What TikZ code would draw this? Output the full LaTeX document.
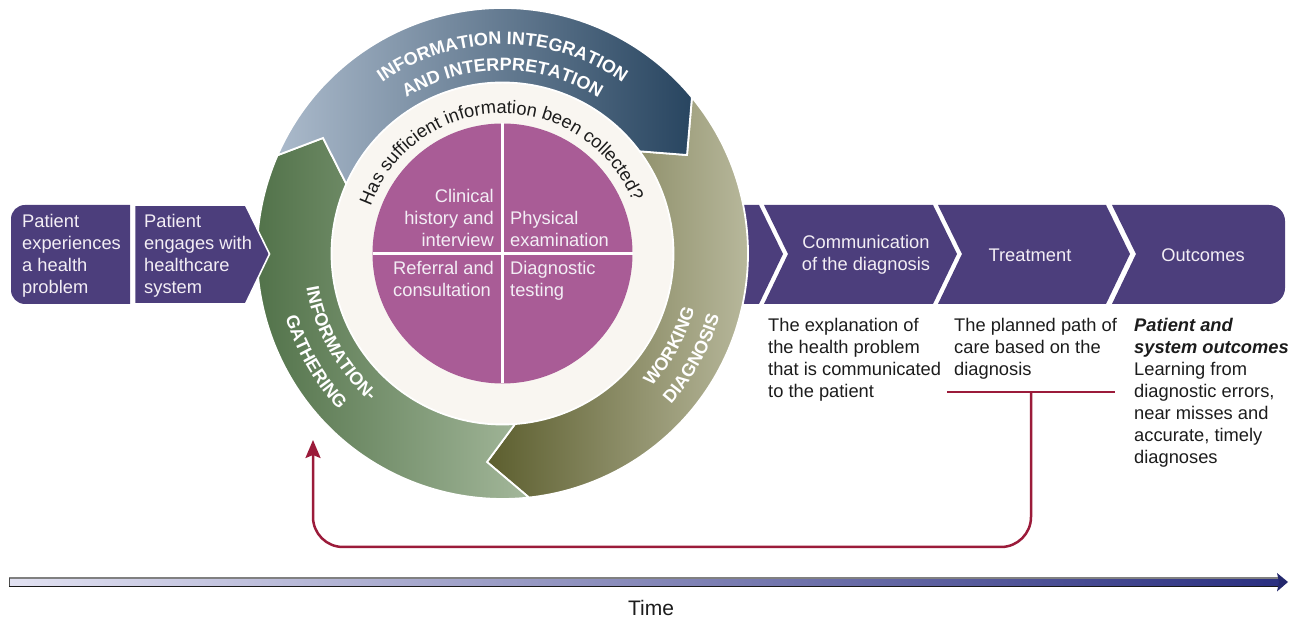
\documentclass[tikz,border=0pt]{standalone}
\usepackage{fontspec}
\setmainfont{Liberation Sans}
\usetikzlibrary{arrows.meta,decorations.text}
\definecolor{band}{HTML}{4C3E7C}
\definecolor{quad}{HTML}{A95C96}
\definecolor{cream}{HTML}{F9F6F1}
\definecolor{loopred}{HTML}{9B1B3A}
\definecolor{ink}{HTML}{1C1C1C}
\definecolor{paletxt}{HTML}{F3EEF5}
\definecolor{olA}{HTML}{5C5E2E}
\definecolor{olB}{HTML}{C2C2A8}
\definecolor{grA}{HTML}{486A40}
\definecolor{grB}{HTML}{A3B79A}
\definecolor{blA}{HTML}{ABBACB}
\definecolor{blB}{HTML}{284560}
\definecolor{timeA}{HTML}{E2E2F2}
\definecolor{timeM}{HTML}{B4B6D8}
\definecolor{timeB}{HTML}{2A2F80}
\newcommand{\bodyfont}{\fontsize{18.3}{22}\selectfont}
\newcommand{\capsfont}{\fontsize{18}{20}\bfseries\selectfont}
\tikzset{
  x=1pt,y=1pt,
  bandshape/.style={fill=band,draw=none},
  headbox/.style={fill=band,draw=white,line width=1.6pt,line join=miter},
  seg/.style={draw=white,line width=1.8pt,line join=miter},
  light/.style={text=paletxt,font=\bodyfont,inner sep=0pt},
  dark/.style={text=ink,font=\bodyfont,inner sep=0pt,align=left,anchor=north west},
  looppath/.style={draw=loopred,line width=2.5pt},
}
\begin{document}
\begin{tikzpicture}
\useasboundingbox (0,0) rectangle (1302,623);
% band behind the ring
\path[bandshape] (735,418)--(759,418)--(783,369)--(759,319)--(735,319)--cycle;
\path[bandshape] (764,418)--(933,418)--(957,369)--(933,319)--(764,319)--(788,369)--cycle;
\path[bandshape] (938,418)--(1106,418)--(1130,369)--(1106,319)--(938,319)--(962,369)--cycle;
\path[bandshape] (1112,418)--(1269,418) arc[start angle=90,end angle=0,radius=16pt]
   --(1285,335) arc[start angle=0,end angle=-90,radius=16pt] --(1112,319)--(1136,369)--cycle;
\path[bandshape] (130,418)--(25,418) arc[start angle=90,end angle=180,radius=14pt]
   --(11,333) arc[start angle=180,end angle=270,radius=14pt] --(130,319)--cycle;
\begin{scope}[shift={(502.5,369.5)}]
  % olive
  \shadedraw[seg,left color=olA,right color=olB] (39.5:245.5)
     arc[start angle=39.5,end angle=-83.8,radius=245.5pt]
     -- (-15.5,-208.5) -- (-85.8:171)
     arc[start angle=-85.8,end angle=36.7,radius=171pt]
     -- (184.5,98.5) -- cycle;
  % green
  \shadedraw[seg,left color=grA,right color=grB] (156.4:245.5)
     arc[start angle=156.4,end angle=276.2,radius=245.5pt]
     -- (-15.5,-208.5) -- (274.2:171)
     arc[start angle=274.2,end angle=156,radius=171pt]
     -- (-179.5,115.5) -- cycle;
  % blue
  \shadedraw[seg,left color=blA,right color=blB] (156.4:245.5)
     arc[start angle=156.4,end angle=39.5,radius=245.5pt]
     -- (184.5,98.5) -- (36.7:171)
     arc[start angle=36.7,end angle=156,radius=171pt]
     -- (-179.5,115.5) -- cycle;
  % hub
  \fill[cream] (0,0) circle[radius=170pt];
  \fill[quad] (0,0) circle[radius=130pt];
  \draw[white,line width=2.2pt] (0,130) -- (0,-130);
  \draw[white,line width=2.2pt] (-130,0) -- (130,0);
  % curved texts
  \path[decorate,decoration={text along path,text align=center,
     text={|\fontsize{18.3}{20}\selectfont\color{ink}|Has sufficient information been collected?}}]
     (179:140) arc[start angle=179,end angle=3,radius=140pt];
  \path[decorate,decoration={text along path,text align=center,
     text={|\capsfont\color{white}|INFORMATION INTEGRATION}}]
     (150:209) arc[start angle=150,end angle=30,radius=209pt];
  \path[decorate,decoration={text along path,text align=center,
     text={|\capsfont\color{white}|AND INTERPRETATION}}]
     (150:183) arc[start angle=150,end angle=30,radius=183pt];
  \path[decorate,decoration={text along path,text align=center,
     text={|\capsfont\color{white}|INFORMATION-}}]
     (170:199) arc[start angle=170,end angle=248,radius=199pt];
  \path[decorate,decoration={text along path,text align=center,
     text={|\capsfont\color{white}|GATHERING}}]
     (170:226) arc[start angle=170,end angle=250,radius=226pt];
  \path[decorate,decoration={text along path,text align=center,
     text={|\capsfont\color{white}|WORKING}}]
     (-69:200) arc[start angle=-69,end angle=11,radius=200pt];
  \path[decorate,decoration={text along path,text align=center,
     text={|\capsfont\color{white}|DIAGNOSIS}}]
     (-69:226) arc[start angle=-69,end angle=11,radius=226pt];
\end{scope}
% entry chevron sits over the ring
\path[headbox] (134.5,418)--(245.5,418)--(269.5,369)--(245.5,319)--(134.5,319)--cycle;
% left texts
\node[light,anchor=north west,align=left] (t1) at (22,408.5) {Patient\\experiences\\a health\\problem};
\node[light,anchor=north west,align=left] (t2) at (144,408.5) {Patient\\engages with\\healthcare\\system};
% quadrant texts
\node[light,anchor=north east,align=right] (q1) at (494,434) {Clinical\\history and\\interview};
\node[light,anchor=north west,align=left] (q2) at (510,412) {Physical\\examination};
\node[light,anchor=north west,align=left] (q3) at (393,362) {Referral and\\consultation};
\node[light,anchor=north west,align=left] (q4) at (510,362) {Diagnostic\\testing};
% chevron titles
\node[light,align=center] (c1) at (866,368) {Communication\\of the diagnosis};
\node[light] (c2) at (1030,367.5) {Treatment};
\node[light] (c3) at (1203,367.5) {Outcomes};
% body texts
\node[dark] (d1) at (768,304.5) {The explanation of\\the health problem\\that is communicated\\to the patient};
\node[dark] (d2) at (954,304.5) {The planned path of\\care based on the\\diagnosis};
\node[dark] (d3) at (1134,305) {\textbf{\textit{Patient and}}\\\textbf{\textit{system outcomes}}\\Learning from\\diagnostic errors,\\near misses and\\accurate, timely\\diagnoses};
% feedback loop
\coordinate (barL) at (947,231);
\coordinate (barR) at (1115,231);
\coordinate (loopS) at (1031,231);
\coordinate (loopE) at (313,183);
\draw[looppath] (barL) -- (barR);
\draw[looppath,rounded corners=30pt,-{Stealth[length=18pt,width=15pt,inset=3pt]}]
   (loopS) -- (1031,76) -- (313,76) -- (loopE);
% time axis
\shade[left color=timeA,middle color=timeM,right color=timeB] (9,37) rectangle (1280,45);
\draw[draw=black!50,line width=1.2pt] (9,45) -- (1280,45);
\draw[draw=black!90,line width=.9pt] (9,37) -- (1280,37);
\draw[draw=black!70,line width=.6pt] (9,37) -- (9,45);
\fill[timeB!85!black] (1277,50) -- (1288,41) -- (1277,31.5) -- (1279,41) -- cycle;
\node[text=ink,font=\fontsize{21}{24}\selectfont,inner sep=0pt] (time) at (651,15) {Time};
\end{tikzpicture}
\end{document}
